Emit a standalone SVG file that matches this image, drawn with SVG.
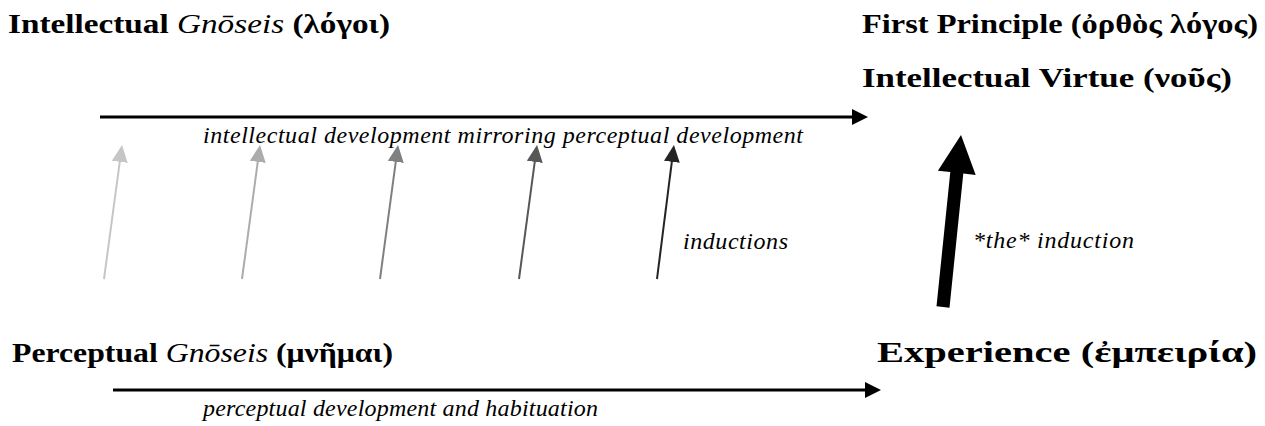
<svg xmlns="http://www.w3.org/2000/svg" width="1265" height="426" viewBox="0 0 1265 426">
<defs>
<marker id="ah" markerUnits="userSpaceOnUse" markerWidth="16" markerHeight="16" refX="4" refY="8" orient="auto"><path d="M0,0 L16,8 L0,16 z" fill="#000"/></marker>
<marker id="a1" markerUnits="userSpaceOnUse" markerWidth="17" markerHeight="16" refX="7" refY="8" orient="auto"><path d="M0,0 L17,8 L0,16 z" fill="#c6c6c6"/></marker>
<marker id="a2" markerUnits="userSpaceOnUse" markerWidth="17" markerHeight="16" refX="7" refY="8" orient="auto"><path d="M0,0 L17,8 L0,16 z" fill="#acacac"/></marker>
<marker id="a3" markerUnits="userSpaceOnUse" markerWidth="17" markerHeight="16" refX="7" refY="8" orient="auto"><path d="M0,0 L17,8 L0,16 z" fill="#808080"/></marker>
<marker id="a4" markerUnits="userSpaceOnUse" markerWidth="17" markerHeight="16" refX="7" refY="8" orient="auto"><path d="M0,0 L17,8 L0,16 z" fill="#575757"/></marker>
<marker id="a5" markerUnits="userSpaceOnUse" markerWidth="17" markerHeight="16" refX="7" refY="8" orient="auto"><path d="M0,0 L17,8 L0,16 z" fill="#242424"/></marker>
</defs>
<style>
.h{font-family:'Liberation Serif',serif;font-weight:bold;font-size:27px;fill:#000}
.g{font-style:italic;font-weight:normal}
.l{font-family:'Liberation Serif',serif;font-style:italic;font-size:24px;fill:#000}
.hz{stroke:#000;stroke-width:3;fill:none}
.th{stroke-width:2;fill:none}
</style>
<g id="connectors">
<line class="hz" x1="100" y1="117" x2="856" y2="117" marker-end="url(#ah)"/>
<line class="hz" x1="113" y1="390" x2="869" y2="390" marker-end="url(#ah)"/>
<line class="th" stroke="#c6c6c6" x1="104" y1="279" x2="120.7" y2="154.9" marker-end="url(#a1)"/>
<line class="th" stroke="#acacac" x1="242" y1="279" x2="258.7" y2="154.9" marker-end="url(#a2)"/>
<line class="th" stroke="#808080" x1="380" y1="279" x2="396.7" y2="154.9" marker-end="url(#a3)"/>
<line class="th" stroke="#575757" x1="519" y1="279" x2="535.7" y2="154.9" marker-end="url(#a4)"/>
<line class="th" stroke="#242424" x1="657" y1="279" x2="672.7" y2="154.9" marker-end="url(#a5)"/>
<polygon fill="#000" points="936.5,306.3 950.3,172.1 937.9,170.7 961,135 975.7,174.9 963.3,173.5 949.5,307.7"/>
</g>
<g id="intellectual-gnoseis"><text class="h" x="8" y="33" textLength="382" lengthAdjust="spacingAndGlyphs">Intellectual <tspan class="g">Gnōseis</tspan> (λόγοι)</text></g>
<g id="first-principle"><text class="h" x="862" y="33" textLength="396" lengthAdjust="spacingAndGlyphs">First Principle (ὀρθὸς λόγος)</text></g>
<g id="intellectual-virtue"><text class="h" x="862" y="87" textLength="370" lengthAdjust="spacingAndGlyphs">Intellectual Virtue (νοῦς)</text></g>
<g id="perceptual-gnoseis"><text class="h" x="12" y="362" textLength="381" lengthAdjust="spacingAndGlyphs">Perceptual <tspan class="g">Gnōseis</tspan> (μνῆμαι)</text></g>
<g id="experience"><text class="h" style="font-size:29px" x="877" y="362" textLength="380" lengthAdjust="spacingAndGlyphs">Experience (ἐμπειρία)</text></g>
<g id="labels">
<text class="l" x="203" y="143" textLength="600" lengthAdjust="spacing">intellectual development mirroring perceptual development</text>
<text class="l" x="683" y="249" textLength="105" lengthAdjust="spacing">inductions</text>
<text class="l" x="973" y="248" textLength="161" lengthAdjust="spacing">*the* induction</text>
<text class="l" x="203" y="416" textLength="395" lengthAdjust="spacing">perceptual development and habituation</text>
</g>
</svg>
